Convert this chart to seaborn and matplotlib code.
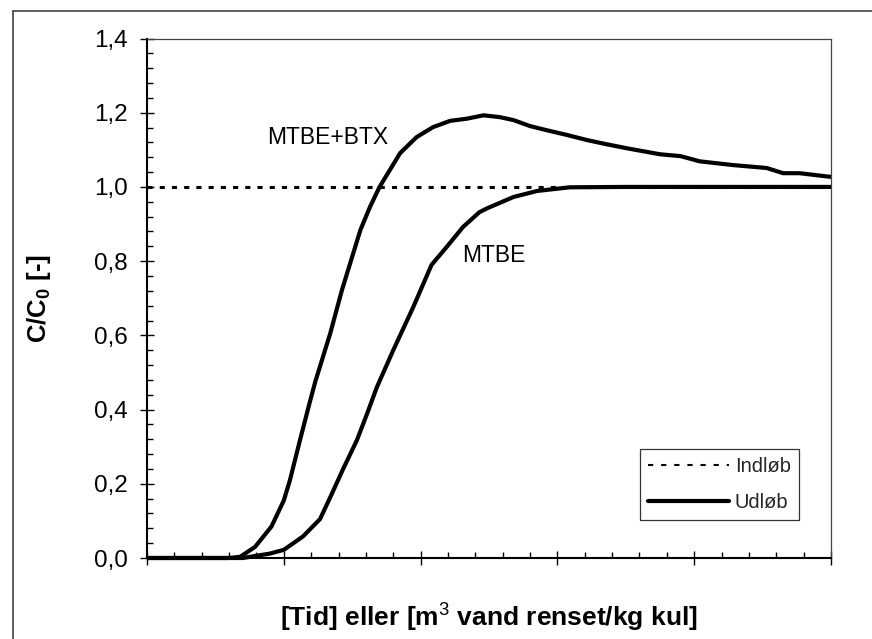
import numpy as np
import pandas as pd
import matplotlib
matplotlib.use("Agg")
import matplotlib.pyplot as plt
from matplotlib.lines import Line2D
from matplotlib.ticker import MultipleLocator, FixedLocator, NullFormatter
import seaborn as sns

# Breakthrough curves, outlet concentration relative to inlet
mtbe_btx_x = [0.0, 0.6, 0.68, 0.79, 0.91, 1.0, 1.045, 1.12, 1.19, 1.23, 1.34, 1.425,
              1.47, 1.56, 1.63, 1.70, 1.85, 1.97, 2.09, 2.215, 2.34, 2.46, 2.58, 2.68,
              2.80, 2.92, 3.07, 3.22, 3.36, 3.51, 3.75, 3.90, 4.04, 4.28, 4.53, 4.65,
              4.77, 5.0]
mtbe_btx_y = [0.0, 0.0, 0.003, 0.03, 0.085, 0.155, 0.21, 0.32, 0.42, 0.475, 0.606, 0.722,
              0.776, 0.884, 0.946, 1.0, 1.091, 1.134, 1.161, 1.178, 1.184, 1.193, 1.188,
              1.18, 1.164, 1.153, 1.14, 1.126, 1.115, 1.104, 1.088, 1.083, 1.069, 1.059,
              1.051, 1.037, 1.037, 1.027]

mtbe_x = [0.0, 0.7, 0.9, 1.0, 1.14, 1.265, 1.34, 1.43, 1.535, 1.61, 1.68, 1.80, 1.946,
          2.08, 2.19, 2.31, 2.43, 2.49, 2.68, 2.85, 3.09, 3.5, 5.0]
mtbe_y = [0.0, 0.0, 0.012, 0.022, 0.058, 0.105, 0.164, 0.237, 0.318, 0.39, 0.46, 0.56,
          0.676, 0.79, 0.838, 0.892, 0.932, 0.943, 0.973, 0.989, 0.999, 1.0, 1.0]

# Inlet concentration (reference level)
inlet_x = [0.0, 5.0]
inlet_y = [1.0, 1.0]

y_ticks = [0.0, 0.2, 0.4, 0.6, 0.8, 1.0, 1.2, 1.4]
y_tick_labels = ["0,0", "0,2", "0,4", "0,6", "0,8", "1,0", "1,2", "1,4"]

sns.set_theme(style="white")
plt.rcParams["font.family"] = ["Liberation Sans", "DejaVu Sans"]
plt.rcParams["mathtext.fontset"] = "custom"
plt.rcParams["mathtext.rm"] = "Liberation Sans"
plt.rcParams["mathtext.bf"] = "Liberation Sans:bold"

fig = plt.figure(figsize=(8.72, 6.39), dpi=100)
fig.patch.set_facecolor("white")
ax = fig.add_axes([147 / 872, 1 - 558 / 639, (831 - 147) / 872, (558 - 38.5) / 639])
ax.set_facecolor("white")

dotted = (0, (1.67, 2.33))
sns.lineplot(x=inlet_x, y=inlet_y, ax=ax, color="black", lw=2.2,
             linestyle=dotted, estimator=None, zorder=3)
sns.lineplot(x=mtbe_btx_x, y=mtbe_btx_y, ax=ax, color="black", lw=3.0,
             estimator=None, zorder=4)
sns.lineplot(x=mtbe_x, y=mtbe_y, ax=ax, color="black", lw=3.0,
             estimator=None, zorder=4)
for ln in ax.lines:
    ln.set_clip_on(False)
    ln.set_solid_capstyle("butt")
    ln.set_solid_joinstyle("round")
ax.lines[0].set_linestyle(dotted)

ax.set_xlim(0, 5)
ax.set_ylim(0, 1.4)

ax.xaxis.set_major_locator(MultipleLocator(1))
ax.xaxis.set_minor_locator(MultipleLocator(0.2))
ax.xaxis.set_major_formatter(NullFormatter())
ax.yaxis.set_major_locator(FixedLocator(y_ticks))
ax.set_yticklabels(y_tick_labels)
ax.yaxis.set_minor_locator(MultipleLocator(0.04))

ax.tick_params(axis="both", which="major", direction="inout", length=9.5,
               width=1.0, color="black", labelsize=17.5, labelcolor="black",
               bottom=True, left=True)
ax.tick_params(axis="y", which="major", pad=9)
ax.tick_params(axis="both", which="minor", direction="in", length=4.2,
               width=1.0, color="black", bottom=True, left=True)

for side in ["left", "bottom"]:
    ax.spines[side].set_color("black")
    ax.spines[side].set_linewidth(1.5)
for side in ["top", "right"]:
    ax.spines[side].set_color("#444444")
    ax.spines[side].set_linewidth(0.9)
    ax.spines[side].set_visible(True)

ax.set_xlabel(r"[Tid] eller [m$^{3}$ vand renset/kg kul]", fontsize=19,
              fontweight="bold", color="black")
ax.xaxis.set_label_coords(0.5, -(600 - 558) / 519.5)
ax.set_ylabel(r"C/C$_{\mathbf{0}}$ [-]", fontsize=18.5, fontweight="bold", color="black")
ax.yaxis.set_label_coords(-(147 - 53) / 684, 0.5)

ax.text(0.877, 1.134, "MTBE+BTX", fontsize=16.5, va="center", ha="left", color="black")
ax.text(2.30, 0.816, "MTBE", fontsize=16.5, va="center", ha="left", color="black")

handles = [
    Line2D([], [], color="black", lw=1.5, linestyle=(0, (2.5, 3.8))),
    Line2D([], [], color="black", lw=3.0),
]
leg = ax.legend(handles, ["Indløb", "Udløb"], loc="upper right",
                bbox_to_anchor=(0.953, 0.2098), borderaxespad=0, fontsize=14.5,
                frameon=True, fancybox=False, shadow=False, handlelength=4.0,
                handletextpad=0.3, labelspacing=0.85, borderpad=0.4)
leg.get_frame().set_edgecolor("#333333")
leg.get_frame().set_linewidth(0.9)
leg.get_frame().set_alpha(1)

# Outer frame lines (left and top)
fig.add_artist(Line2D([13 / 872, 13 / 872], [0, 1 - 10.5 / 639],
                      transform=fig.transFigure, color="#333333", lw=1.1))
fig.add_artist(Line2D([13 / 872, 1], [1 - 10.5 / 639, 1 - 10.5 / 639],
                      transform=fig.transFigure, color="#333333", lw=1.1))

fig.savefig("out.png", dpi=100, facecolor="white")
